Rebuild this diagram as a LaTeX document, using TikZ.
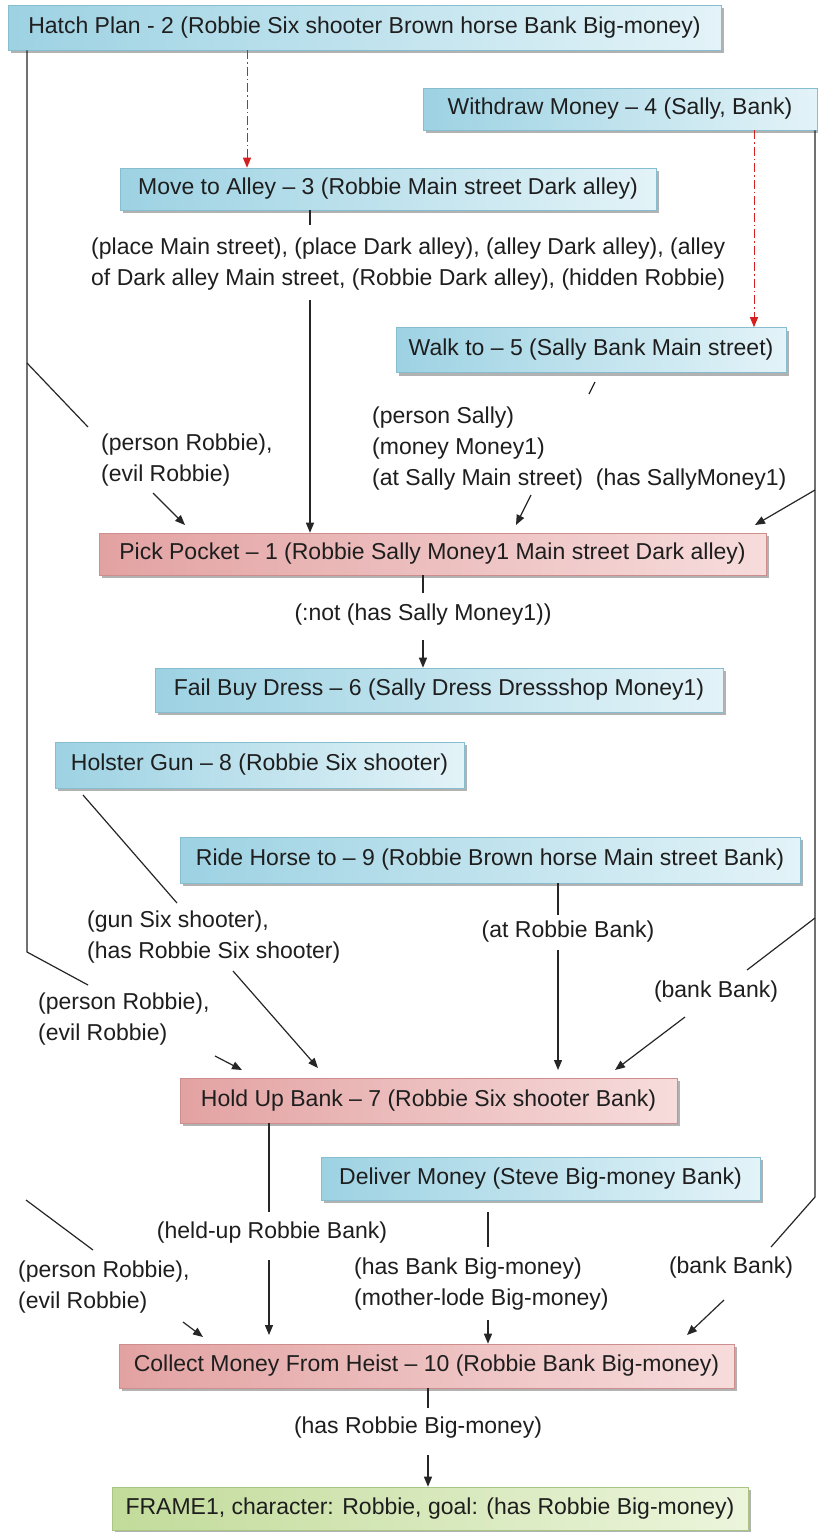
\documentclass[tikz,border=0pt]{standalone}
\usepackage{fontspec}
\setmainfont{Liberation Sans}
\usetikzlibrary{arrows.meta,shadows}
\definecolor{txt}{HTML}{1E1E1E}
\definecolor{bL}{HTML}{9DD2E3}
\definecolor{bR}{HTML}{E3F3F8}
\definecolor{bD}{HTML}{86BDCF}
\definecolor{rL}{HTML}{E3A2A2}
\definecolor{rR}{HTML}{F7DCDC}
\definecolor{rD}{HTML}{CF8E8E}
\definecolor{gL}{HTML}{C2DB9A}
\definecolor{gR}{HTML}{ECF5DC}
\definecolor{gD}{HTML}{A9C583}
\definecolor{redc}{HTML}{D42020}
\tikzset{
  boxbase/.style={line width=0.6pt, inner sep=0pt, text=txt,
    drop shadow={shadow xshift=2.5pt,shadow yshift=-3pt,fill=black,opacity=0.3}},
  bluebox/.style={boxbase, draw=bD, left color=bL, right color=bR},
  redbox/.style={boxbase, draw=rD, left color=rL, right color=rR},
  greenbox/.style={boxbase, draw=gD, left color=gL, right color=gR},
  lbl/.style={inner sep=0pt, text=txt, align=left},
  conn/.style={line width=1.2pt, draw=black!85},
  arr/.style={conn, -{Triangle[length=10pt,width=8pt]}},
  redarr/.style={line width=1pt, draw=redc, dash pattern=on 9pt off 3pt on 1.5pt off 3pt,
    -{Triangle[length=10pt,width=8pt,fill=redc]}}
}
\begin{document}
\begin{tikzpicture}[x=1pt,y=-1pt,font=\fontsize{23}{31}\selectfont]
\fill[white] (0,0) rectangle (817,1532);
\useasboundingbox (0,0) rectangle (817,1532);

% boxes
\node[bluebox, minimum width=713pt, minimum height=45pt] (hatch) at (364.5,27.5)
  {Hatch Plan - 2 (Robbie Six shooter Brown horse Bank Big-money)};
\node[bluebox, minimum width=394pt, minimum height=42pt] (withdraw) at (620,109)
  {Withdraw Money – 4 (Sally, Bank)};
\node[bluebox, minimum width=536pt, minimum height=42pt] (move) at (388,189)
  {Move to Alley – 3 (Robbie Main street Dark alley)};
\node[bluebox, minimum width=390pt, minimum height=45pt] (walk) at (591,350)
  {Walk to – 5 (Sally Bank Main street)};
\node[redbox, minimum width=667pt, minimum height=42pt] (pick) at (432.5,554)
  {Pick Pocket – 1 (Robbie Sally Money1 Main street Dark alley)};
\node[bluebox, minimum width=568pt, minimum height=44pt] (fail) at (439,690)
  {Fail Buy Dress – 6 (Sally Dress Dressshop Money1)};
\node[bluebox, minimum width=409pt, minimum height=46pt] (holster) at (259.5,765)
  {Holster Gun – 8 (Robbie Six shooter)};
\node[bluebox, minimum width=620pt, minimum height=46pt] (ride) at (490,860)
  {Ride Horse to – 9 (Robbie Brown horse Main street Bank)};
\node[redbox, minimum width=497pt, minimum height=45pt] (holdup) at (428.5,1100.5)
  {Hold Up Bank – 7 (Robbie Six shooter Bank)};
\node[bluebox, minimum width=439pt, minimum height=43pt] (deliver) at (540.5,1178.5)
  {Deliver Money (Steve Big-money Bank)};
\node[redbox, minimum width=615pt, minimum height=44pt] (collect) at (426.5,1366)
  {Collect Money From Heist – 10 (Robbie Bank Big-money)};
\node[greenbox, minimum width=636pt, minimum height=43pt] (frame) at (430,1508.5)
  {FRAME1, character: Robbie, goal: (has Robbie Big-money)};

% labels
\node[lbl, anchor=west] (lblmove) at (91,264)
  {(place Main street), (place Dark alley), (alley Dark alley), (alley\\of Dark alley Main street, (Robbie Dark alley), (hidden Robbie)};
\node[lbl, anchor=west] (lblpr1) at (101,460) {(person Robbie),\\(evil Robbie)};
\node[lbl, anchor=west] (lblsally) at (372,449)
  {(person Sally)\\(money Money1)\\(at Sally Main street)\ \ (has SallyMoney1)};
\node[lbl] (lblnot) at (423,615) {(:not (has Sally Money1))};
\node[lbl, anchor=west] (lblgun) at (87,937) {(gun Six shooter),\\(has Robbie Six shooter)};
\node[lbl] (lblat) at (568,932) {(at Robbie Bank)};
\node[lbl] (lblbank1) at (716,992) {(bank Bank)};
\node[lbl, anchor=west] (lblpr2) at (38,1019) {(person Robbie),\\(evil Robbie)};
\node[lbl] (lblheld) at (272,1233) {(held-up Robbie Bank)};
\node[lbl, anchor=west] (lblhas) at (354,1284) {(has Bank Big-money)\\(mother-lode Big-money)};
\node[lbl] (lblbank2) at (731,1268) {(bank Bank)};
\node[lbl, anchor=west] (lblpr3) at (18,1287) {(person Robbie),\\(evil Robbie)};
\node[lbl] (lblhasrb) at (418,1428) {(has Robbie Big-money)};

% free-end coordinates
\coordinate (lA) at (27,363);   \coordinate (lAe) at (88,427);
\coordinate (lB) at (27,952);   \coordinate (lBe) at (88,985);
\coordinate (lC) at (26,1200);  \coordinate (lCe) at (93,1250);
\coordinate (pr1s) at (153,493); \coordinate (pr1e) at (185,525);
\coordinate (pr2s) at (215,1056); \coordinate (pr2e) at (242,1070);
\coordinate (pr3s) at (183,1322); \coordinate (pr3e) at (203,1337);
\coordinate (mvA) at (310,225); \coordinate (mvB) at (310,300);
\coordinate (wkA) at (595,382); \coordinate (wkB) at (589,394);
\coordinate (wkC) at (531,495); \coordinate (wkD) at (516,525);
\coordinate (rA) at (815,490);  \coordinate (rAe) at (755,525);
\coordinate (rB) at (815,918);  \coordinate (rBe) at (747,970);
\coordinate (rD) at (815,1197); \coordinate (rDe) at (771,1247);
\coordinate (bk1s) at (685,1017); \coordinate (bk1e) at (615,1070);
\coordinate (bk2s) at (724,1300); \coordinate (bk2e) at (687,1335);
\coordinate (pkA) at (423,593); \coordinate (pkB) at (423,640);
\coordinate (hoA) at (83,795);  \coordinate (hoB) at (177,903);
\coordinate (hoC) at (233,971); \coordinate (hoD) at (318,1068);
\coordinate (rdA) at (558,915); \coordinate (rdB) at (558,950); \coordinate (rdC) at (558,1070);
\coordinate (huA) at (269,1212); \coordinate (huB) at (269,1260); \coordinate (huC) at (269,1335);
\coordinate (dlA) at (488,1212); \coordinate (dlB) at (488,1247); \coordinate (dlC) at (488,1320);
\coordinate (clA) at (428,1408); \coordinate (clB) at (428,1455);

% red dash-dot connectors
\draw[redarr] (hatch.south -| 247,0) -- (move.north -| 247,0);
\draw[redarr] (withdraw.south -| 754,0) -- (walk.north -| 754,0);

% left side
\draw[conn] (hatch.south -| 27,0) -- (lB) -- (lBe);
\draw[conn] (lA) -- (lAe);
\draw[conn] (lC) -- (lCe);
\draw[arr] (pr1s) -- (pr1e);
\draw[arr] (pr2s) -- (pr2e);
\draw[arr] (pr3s) -- (pr3e);

% right side
\draw[conn] (withdraw.south -| 815,0) -- (rD) -- (rDe);
\draw[arr] (rA) -- (rAe);
\draw[conn] (rB) -- (rBe);
\draw[arr] (bk1s) -- (bk1e);
\draw[arr] (bk2s) -- (bk2e);

% move -> pick
\draw[conn] (move.south -| 310,0) -- (mvA);
\draw[arr] (mvB) -- (pick.north -| 310,0);
% walk -> pick
\draw[conn] (wkA) -- (wkB);
\draw[arr] (wkC) -- (wkD);
% pick -> fail
\draw[conn] (pick.south -| 423,0) -- (pkA);
\draw[arr] (pkB) -- (fail.north -| 423,0);
% holster -> holdup
\draw[conn] (hoA) -- (hoB);
\draw[arr] (hoC) -- (hoD);
% ride -> holdup
\draw[conn] (ride.south -| 558,0) -- (rdA);
\draw[arr] (rdB) -- (rdC);
% holdup -> collect
\draw[conn] (holdup.south -| 269,0) -- (huA);
\draw[arr] (huB) -- (huC);
% deliver -> collect
\draw[conn] (dlA) -- (dlB);
\draw[arr] (dlC) -- (collect.north -| 488,0);
% collect -> frame
\draw[conn] (collect.south -| 428,0) -- (clA);
\draw[arr] (clB) -- (frame.north -| 428,0);
\end{tikzpicture}
\end{document}
